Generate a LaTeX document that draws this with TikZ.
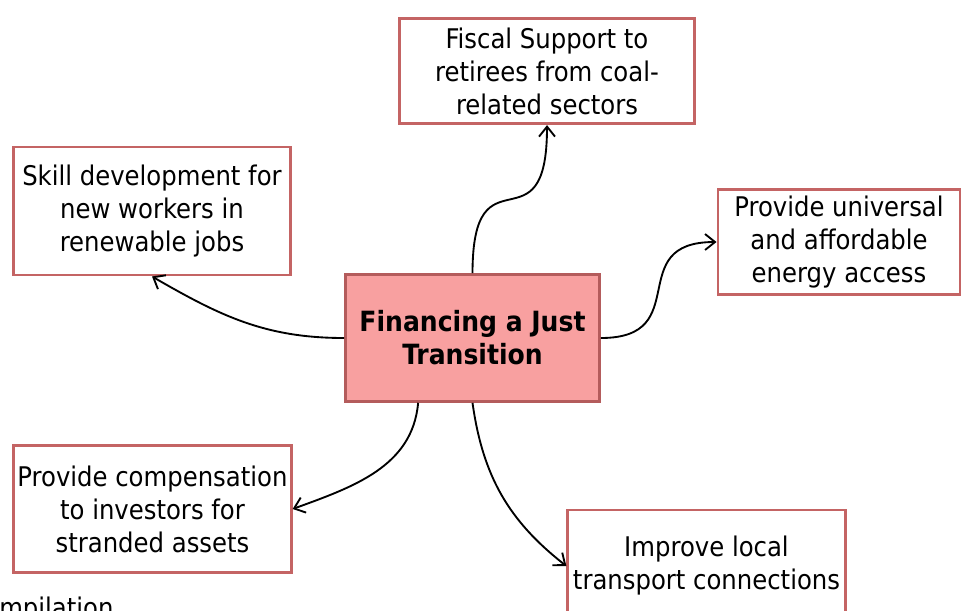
\documentclass[tikz,border=0pt]{standalone}
\usepackage{fontspec}
\setmainfont{DejaVu Sans Condensed}
\usetikzlibrary{arrows.meta}
\definecolor{boxred}{HTML}{C46464}
\definecolor{hubpink}{HTML}{F8A0A0}

\begin{document}
\begin{tikzpicture}[
  x=0.75pt, y=-0.75pt,
  font=\fontsize{20.3}{24.75}\selectfont,
  leaf/.style={draw=boxred, line width=2.2pt, fill=white, align=center, inner sep=0pt},
  hub/.style={leaf, fill=hubpink, draw=boxred!92!black, font=\fontsize{20.9}{24.75}\selectfont\bfseries},
  arr/.style={-{Straight Barb[length=7.5pt, width=12pt]}, line width=1.4pt}]

\useasboundingbox (0,0) rectangle (962,610);

% centre
\node[hub, minimum width=190.5pt, minimum height=95pt] (hub) at (472.5,338) {Financing a Just\\Transition};

% branches
\node[leaf, minimum width=221pt, minimum height=79pt] (fiscal) at (547,71) {Fiscal Support to\\retirees from coal-\\related sectors};
\node[leaf, minimum width=208pt, minimum height=96pt] (skill) at (152,211) {Skill development for\\new workers in\\renewable jobs};
\node[leaf, minimum width=181.5pt, minimum height=79pt] (energy) at (839,242) {Provide universal\\and affordable\\energy access};
\node[leaf, minimum width=208pt, minimum height=95pt] (invest) at (152.5,509) {Provide compensation\\to investors for\\stranded assets};
\node[leaf, minimum width=208pt, minimum height=84pt] (transport) at (706.5,566) {Improve local\\transport connections};

% cut-off caption
\node[anchor=base west, inner sep=0pt] (caption) at (-1,617) {mpilation};

% links
\draw[arr] (hub.north) to[out=90, in=-90, looseness=2] (fiscal.south);
\draw[arr] (hub.east) to[out=0, in=180, looseness=1.6] (energy.west);
\draw[arr] (hub.west) to[out=180, in=-30] (skill.south);
\draw[arr] (hub.230) to[out=-95, in=20] (invest.east);
\draw[arr] (hub.south) to[out=-82, in=142] (transport.west);
\end{tikzpicture}
\end{document}
